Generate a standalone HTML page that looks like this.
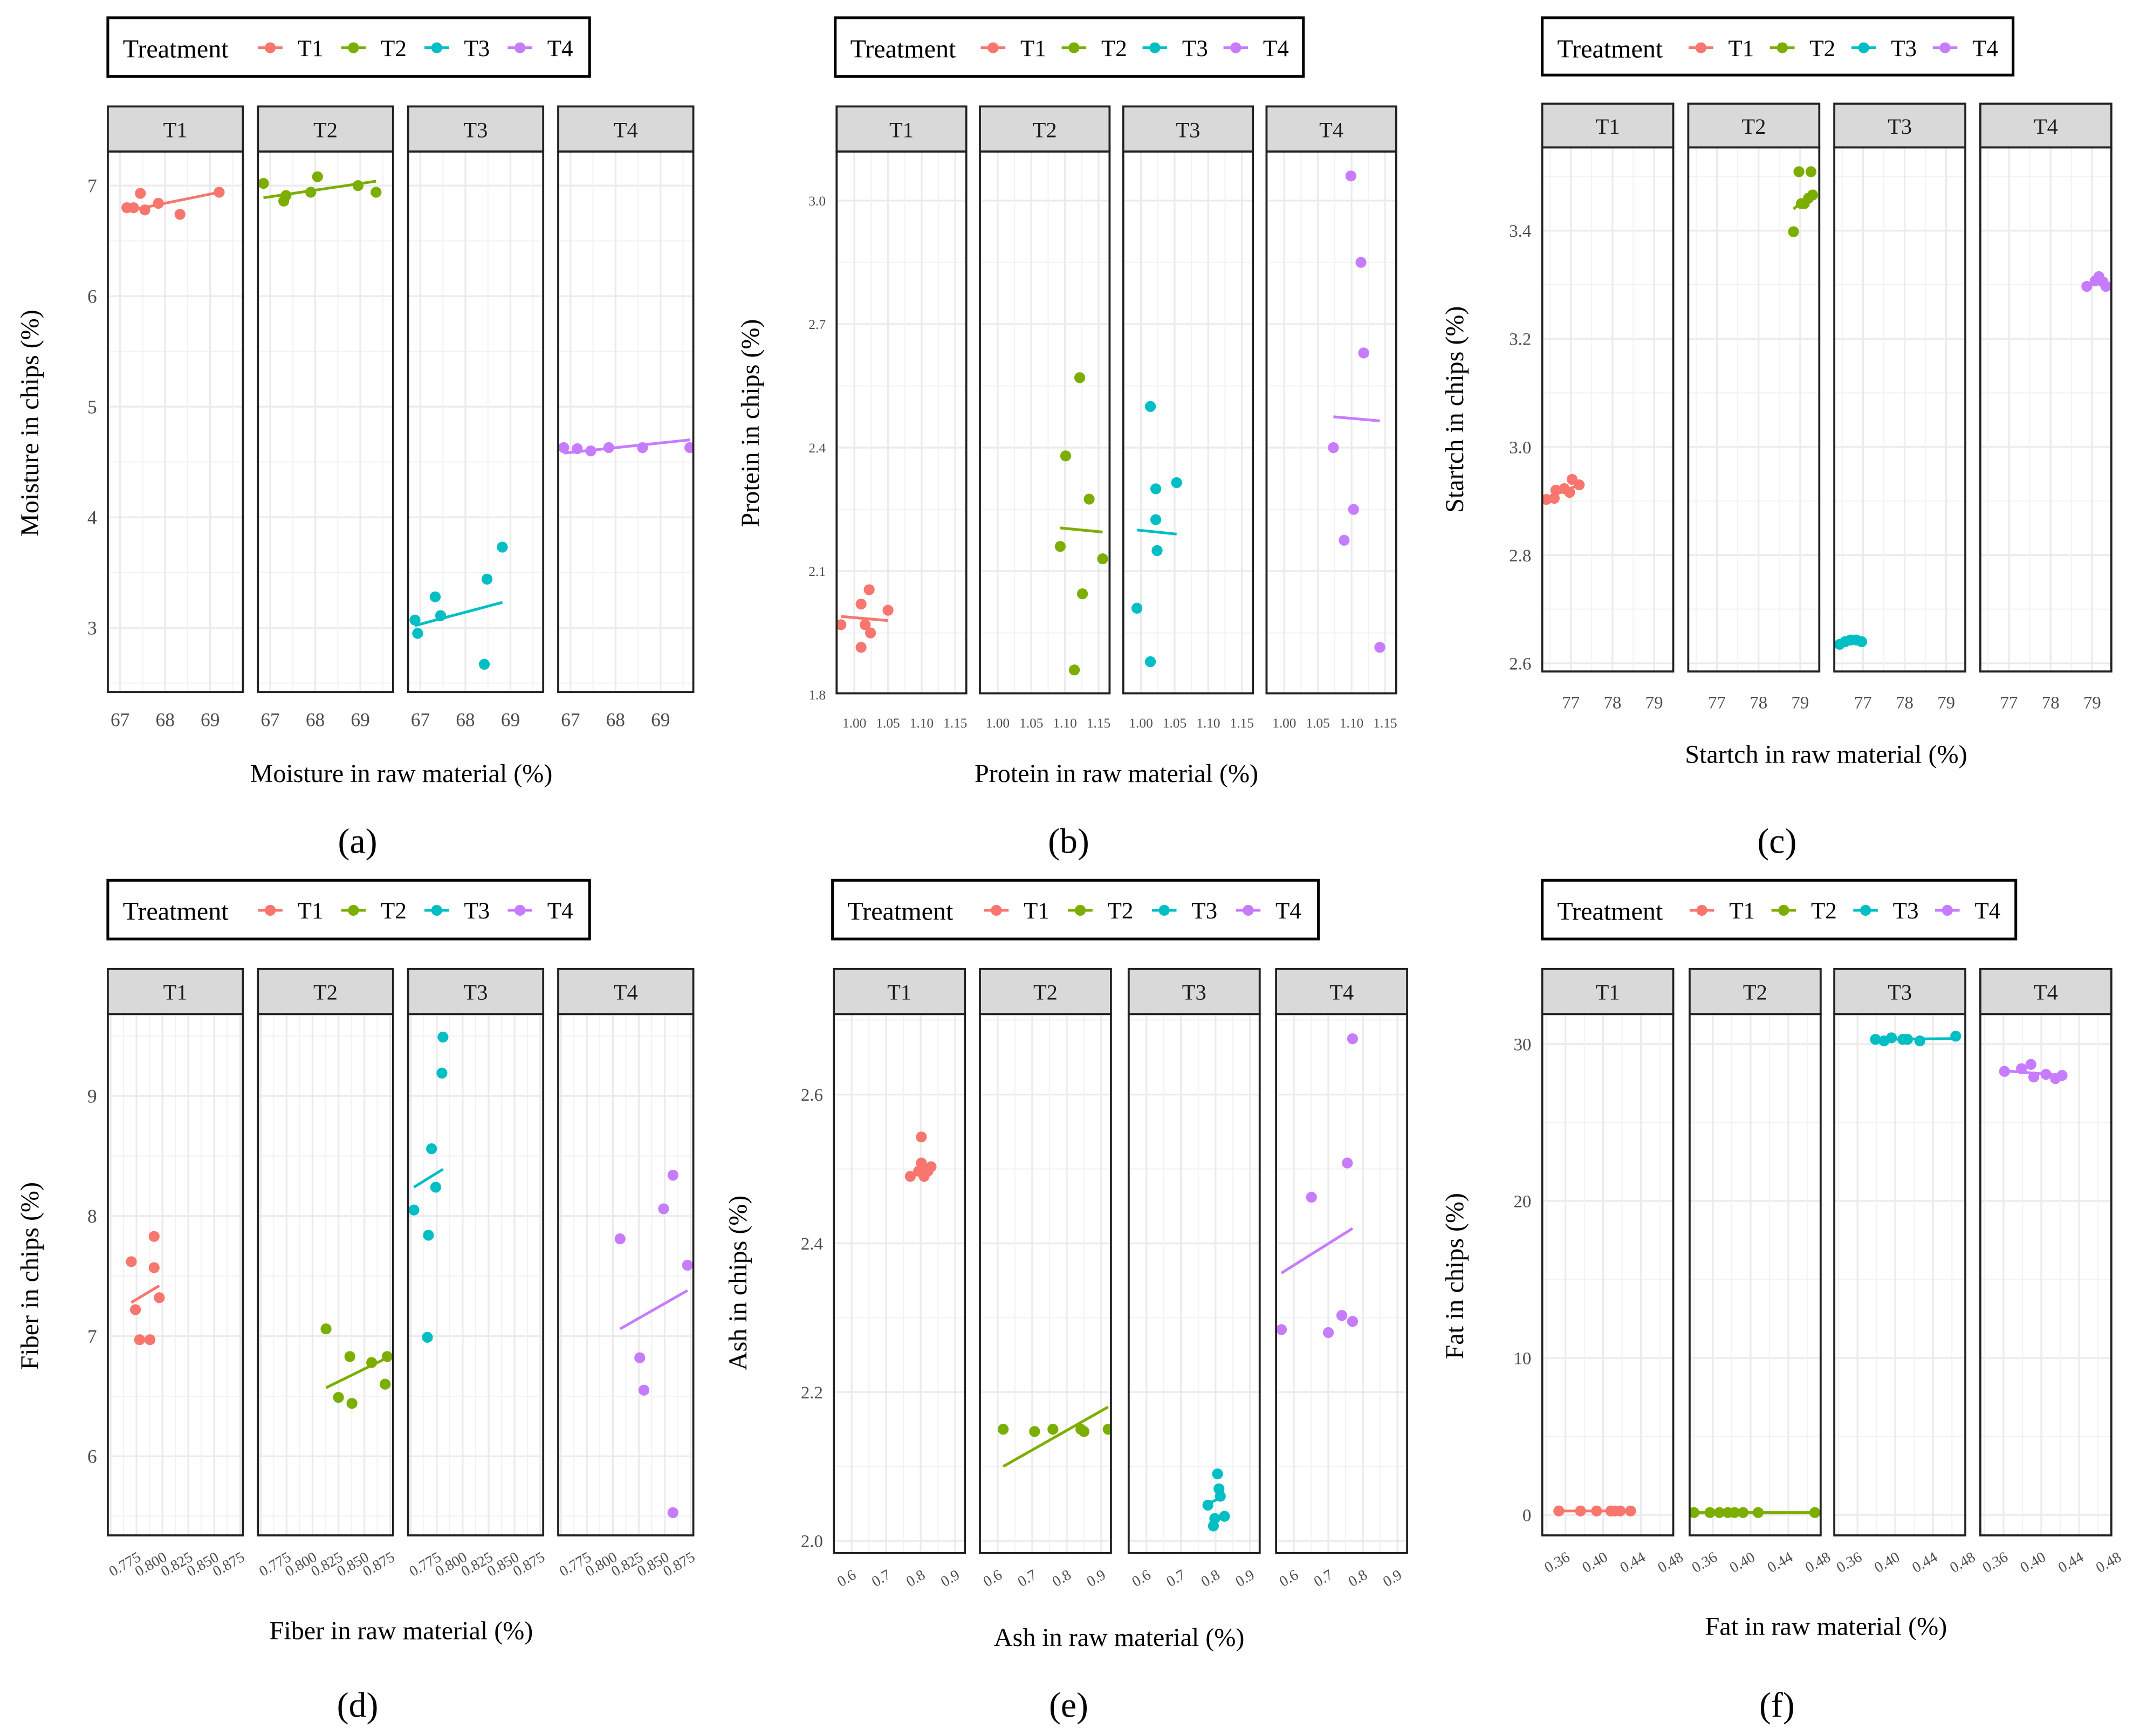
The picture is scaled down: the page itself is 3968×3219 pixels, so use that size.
<!DOCTYPE html>
<html><head><meta charset="utf-8"><style>
html,body{margin:0;padding:0;background:#fff;}
svg{display:block;}
</style></head><body>
<svg id="fig" width="3968" height="3219" viewBox="0 0 1568 1272" preserveAspectRatio="none" xmlns="http://www.w3.org/2000/svg" font-family="'Liberation Serif', serif"></svg>
<script>
// ---- data (x = raw material, y = chips) per treatment T1..T4 ----
const treatments = ['T1','T2','T3','T4'];
const aX = [[67.15,67.3,67.45,67.55,67.85,68.33,69.2],[66.85,67.3,67.35,67.9,68.05,68.95,69.35],[66.88,66.94,67.33,67.45,68.42,68.48,68.82],[66.85,67.15,67.45,67.85,68.6,69.65]];
const aY = [[6.8,6.8,6.93,6.78,6.84,6.74,6.94],[7.02,6.86,6.91,6.94,7.08,7.0,6.94],[3.07,2.95,3.28,3.11,2.67,3.44,3.73],[4.63,4.62,4.6,4.63,4.63,4.63]];
const aFitStart=[6.77,6.89,3.02,4.58], aFitEnd=[6.94,7.04,3.23,4.70];
const bX = [[0.98,1.01,1.016,1.022,1.024,1.01,1.05],[1.093,1.101,1.122,1.126,1.114,1.136,1.156],[0.994,1.014,1.022,1.022,1.024,1.014,1.053],[1.073,1.099,1.114,1.118,1.103,1.089,1.142]];
const bY = [[1.97,2.02,1.97,2.055,1.95,1.915,2.005],[2.16,2.38,2.57,2.045,1.86,2.275,2.13],[2.01,2.5,2.3,2.225,2.15,1.88,2.315],[2.40,3.06,2.85,2.63,2.25,2.175,1.915]];
const bFitStart=[1.99,2.205,2.20,2.475], bFitEnd=[1.98,2.195,2.19,2.465];
const cX = [[76.41,76.6,76.64,76.84,76.97,77.03,77.2],[78.84,78.97,79.26,79.1,79.2,79.3,79.03],[76.44,76.57,76.7,76.84,76.97],[78.87,79.07,79.16,79.26,79.33]];
const cY = [[2.903,2.905,2.92,2.923,2.916,2.94,2.93],[3.398,3.509,3.509,3.45,3.46,3.466,3.45],[2.635,2.64,2.643,2.643,2.64],[3.297,3.307,3.315,3.305,3.297]];
const cFitStart=[2.905,3.44,2.638,3.30], cFitEnd=[2.93,3.47,2.645,3.305];
const dX = [[0.770,0.774,0.778,0.788,0.792,0.792,0.797],[0.813,0.825,0.836,0.838,0.857,0.87,0.872],[0.753,0.766,0.767,0.77,0.774,0.78,0.781],[0.807,0.826,0.83,0.849,0.858,0.858,0.872]];
const dY = [[7.62,7.22,6.97,6.97,7.83,7.57,7.32],[7.06,6.49,6.83,6.44,6.78,6.6,6.83],[8.05,6.99,7.84,8.56,8.24,9.19,9.49],[7.81,6.82,6.55,8.06,8.34,5.53,7.59]];
const dFitStart=[7.28,6.57,8.24,7.06], dFitEnd=[7.42,6.82,8.39,7.38];
const eX = [[0.77,0.794,0.802,0.802,0.81,0.821,0.83],[0.616,0.707,0.76,0.841,0.85,0.92],[0.778,0.798,0.806,0.81,0.814,0.794,0.826],[0.564,0.651,0.7,0.739,0.755,0.77,0.77]];
const eY = [[2.49,2.497,2.543,2.508,2.49,2.497,2.503],[2.15,2.147,2.15,2.15,2.147,2.15],[2.048,2.03,2.09,2.07,2.06,2.02,2.033],[2.284,2.462,2.28,2.303,2.508,2.295,2.675]];
const eFitStart=[2.49,2.10,2.05,2.36], eFitEnd=[2.50,2.18,2.06,2.42];
const fX = [[0.353,0.376,0.393,0.408,0.412,0.418,0.429],[0.34,0.357,0.367,0.376,0.383,0.392,0.408,0.468],[0.379,0.388,0.396,0.408,0.413,0.426,0.464],[0.361,0.379,0.389,0.392,0.405,0.415,0.422]];
const fY = [[0.25,0.25,0.25,0.25,0.25,0.25,0.25],[0.15,0.15,0.15,0.15,0.15,0.15,0.15,0.15],[30.3,30.2,30.4,30.3,30.3,30.2,30.5],[28.26,28.43,28.7,27.9,28.07,27.8,28.0]];
const fFitStart=[0.25,0.15,30.3,28.3], fFitEnd=[0.25,0.15,30.35,28.0];
const aYTicks=[3,4,5,6,7], aXTicks=[67,68,69];
const bYTicks=[1.8,2.1,2.4,2.7,3.0], bXTicks=[1.00,1.05,1.10,1.15];
const cYTicks=[2.6,2.8,3.0,3.2,3.4], cXTicks=[77,78,79];
const dYTicks=[6,7,8,9], dXTicks=[0.775,0.800,0.825,0.850,0.875];
const eYTicks=[2.0,2.2,2.4,2.6], eXTicks=[0.6,0.7,0.8,0.9];
const fYTicks=[0,10,20,30], fXTicks=[0.36,0.40,0.44,0.48];

const colors=['#F8766D','#7CAE00','#00BFC4','#C77CFF'];
const NS='http://www.w3.org/2000/svg';
const svg=document.getElementById('fig');
function mk(tag,attrs,parent,txt){const e=document.createElementNS(NS,tag);for(const k in attrs)e.setAttribute(k,attrs[k]);if(txt!==undefined)e.textContent=txt;(parent||svg).appendChild(e);return e;}

const charts=[
 {id:'a',X:aX,Y:aY,F0:aFitStart,F1:aFitEnd,yt:aYTicks,xt:aXTicks,xf:v=>String(v),px:[79,189,299,409],pw:99,strip:78,top:111,bot:507,yv0:3,yp0:460,yv1:7,yp1:136,off:9,unit:33,ly:532,fs:14,yfs:14,rot:false,leg:[79,13,353,43],xt2:[294,573,'Moisture in raw material (%)'],yt2:[28,310,'Moisture in chips (%)'],tag:[262,625,'(a)']},
 {id:'b',X:bX,Y:bY,F0:bFitStart,F1:bFitEnd,yt:bYTicks,xt:bXTicks,xf:v=>v.toFixed(2),px:[613,718,823,928],pw:95,strip:78,top:111,bot:508,yv0:1.8,yp0:509,yv1:3.0,yp1:147,off:13,unit:493,ly:533,fs:10,yfs:10,rot:false,leg:[612,13,343,43],xt2:[818,573,'Protein in raw material (%)'],yt2:[556,310,'Protein in chips (%)'],tag:[783,625,'(b)']},
 {id:'c',X:cX,Y:cY,F0:cFitStart,F1:cFitEnd,yt:cYTicks,xt:cXTicks,xf:v=>String(v),px:[1130,1237,1344,1451],pw:96,strip:76,top:108,bot:492,yv0:2.6,yp0:486,yv1:3.4,yp1:169,off:21,unit:30.5,ly:519,fs:13,yfs:13,rot:false,leg:[1130,13,345,42],xt2:[1338,559,'Startch in raw material (%)'],yt2:[1072,300,'Startch in chips (%)'],tag:[1302,625,'(c)']},
 {id:'d',X:dX,Y:dY,F0:dFitStart,F1:dFitEnd,yt:dYTicks,xt:dXTicks,xf:v=>v.toFixed(3),px:[79,189,299,409],pw:99,strip:710,top:743,bot:1125,yv0:6,yp0:1067,yv1:9,yp1:803,off:21,unit:760,ly:1143,fs:11,yfs:14,rot:true,leg:[79,645,353,43],xt2:[294,1201,'Fiber in raw material (%)'],yt2:[28,935,'Fiber in chips (%)'],tag:[262,1258,'(d)']},
 {id:'e',X:eX,Y:eY,F0:eFitStart,F1:eFitEnd,yt:eYTicks,xt:eXTicks,xf:v=>v.toFixed(1),px:[611,718,827,935],pw:96,strip:710,top:743,bot:1138,yv0:2.0,yp0:1129,yv1:2.6,yp1:802,off:13,unit:253,ly:1156,fs:11,yfs:13,rot:true,leg:[610,645,356,43],xt2:[820,1206,'Ash in raw material (%)'],yt2:[547,940,'Ash in chips (%)'],tag:[783,1258,'(e)']},
 {id:'f',X:fX,Y:fY,F0:fFitStart,F1:fFitEnd,yt:fYTicks,xt:fXTicks,xf:v=>v.toFixed(2),px:[1130,1238,1344,1451],pw:96,strip:710,top:743,bot:1125,yv0:0,yp0:1110,yv1:30,yp1:765,off:17,unit:692,ly:1143,fs:11,yfs:13,rot:true,leg:[1130,645,347,43],xt2:[1338,1198,'Fat in raw material (%)'],yt2:[1072,935,'Fat in chips (%)'],tag:[1302,1258,'(f)']}
];

charts.forEach(c=>{
 const g=mk('g',{});
 
 
 const ys=v=>c.yp0+(v-c.yv0)*(c.yp1-c.yp0)/(c.yv1-c.yv0);
 const [lx,ly,lw,lh]=c.leg;
 const lg=mk('g',{},g);
 
 
 mk('rect',{x:lx,y:ly,width:lw,height:lh,fill:'#fff',stroke:'#000','stroke-width':2},lg);
 mk('text',{x:lx+11,y:ly+29,'font-size':19,fill:'#000'},lg,'Treatment');
 const sc=lw/353;
 treatments.forEach((t,i)=>{
  const mx=lx+(119+i*61)*sc;
  const e=mk('g',{},lg);
  
  
  mk('line',{x1:mx-9,x2:mx+9,y1:ly+22,y2:ly+22,stroke:colors[i],'stroke-width':2},e);
  mk('circle',{cx:mx,cy:ly+22,r:4,fill:colors[i]},e);
  mk('text',{x:mx+20,y:ly+28,'font-size':17},e,t);
 });
 treatments.forEach((t,i)=>{
  const x0=c.px[i], pg=mk('g',{},g);
  
  
  const xs=v=>x0+c.off+(v-c.xt[0])*c.unit;
  const clipId='clip'+c.id+i;
  const cp=mk('clipPath',{id:clipId},pg);
  mk('rect',{x:x0,y:c.top,width:c.pw,height:c.bot-c.top},cp);
  const gg=mk('g',{'clip-path':'url(#'+clipId+')'},pg);
  const dy=c.yt[1]-c.yt[0];
  for(let k=-1;k<=c.yt.length;k++){
   const v=c.yt[0]+k*dy;
   mk('line',{x1:x0,x2:x0+c.pw,y1:ys(v),y2:ys(v),stroke:'#ebebeb','stroke-width':1.3},gg);
   mk('line',{x1:x0,x2:x0+c.pw,y1:ys(v+dy/2),y2:ys(v+dy/2),stroke:'#f2f2f2','stroke-width':0.8},gg);
  }
  const dx=c.xt[1]-c.xt[0];
  for(let k=-1;k<=c.xt.length+1;k++){
   const v=c.xt[0]+k*dx;
   mk('line',{y1:c.top,y2:c.bot,x1:xs(v),x2:xs(v),stroke:'#ebebeb','stroke-width':1.3},gg);
   mk('line',{y1:c.top,y2:c.bot,x1:xs(v+dx/2),x2:xs(v+dx/2),stroke:'#f2f2f2','stroke-width':0.8},gg);
  }
  const X=c.X[i],Y=c.Y[i],n=X.length;
  const xa=Math.min(...X), xb=Math.max(...X);
  const ln=mk('line',{x1:xs(xa),x2:xs(xb),y1:ys(c.F0[i]),y2:ys(c.F1[i]),stroke:colors[i],'stroke-width':2},gg);
  
  
  for(let k=0;k<n;k++){
   const p=mk('circle',{cx:xs(X[k]),cy:ys(Y[k]),r:4,fill:colors[i]},gg);
   
   
  }
  mk('rect',{x:x0,y:c.top,width:c.pw,height:c.bot-c.top,fill:'none',stroke:'#222','stroke-width':1.5},pg);
  const st=mk('g',{},pg);
  
  
  mk('rect',{x:x0,y:c.strip,width:c.pw,height:c.top-c.strip,fill:'#d9d9d9',stroke:'#222','stroke-width':1.5},st);
  mk('text',{x:x0+c.pw/2,y:(c.strip+c.top)/2+6,'text-anchor':'middle','font-size':16,fill:'#1a1a1a'},st,t);
  c.xt.forEach(v=>{
   const x=xs(v);
   let tl;
   if(c.rot){
    tl=mk('text',{x:x+4,y:c.ly,'text-anchor':'end','font-size':c.fs,fill:'#4d4d4d',transform:`rotate(-30 ${x+4} ${c.ly})`},pg,c.xf(v));
   } else {
    tl=mk('text',{x:x,y:c.ly,'text-anchor':'middle','font-size':c.fs,fill:'#4d4d4d'},pg,c.xf(v));
   }
   
   
  });
 });
 c.yt.forEach(v=>{
  const tl=mk('text',{x:c.px[0]-8,y:ys(v)+c.yfs*0.35,'text-anchor':'end','font-size':c.yfs,fill:'#4d4d4d'},g,(c.id==='b'||c.id==='c'||c.id==='e')?v.toFixed(1):String(v));
  
  
 });
 const xt=mk('text',{x:c.xt2[0],y:c.xt2[1],'text-anchor':'middle','font-size':19},g,c.xt2[2]);
 
 
 const yt=mk('text',{x:c.yt2[0],y:c.yt2[1],'text-anchor':'middle','font-size':19,transform:`rotate(-90 ${c.yt2[0]} ${c.yt2[1]})`},g,c.yt2[2]);
 
 
 const tg=mk('text',{x:c.tag[0],y:c.tag[1],'text-anchor':'middle','font-size':26},g,c.tag[2]);
 
 
});
</script>
</body></html>
